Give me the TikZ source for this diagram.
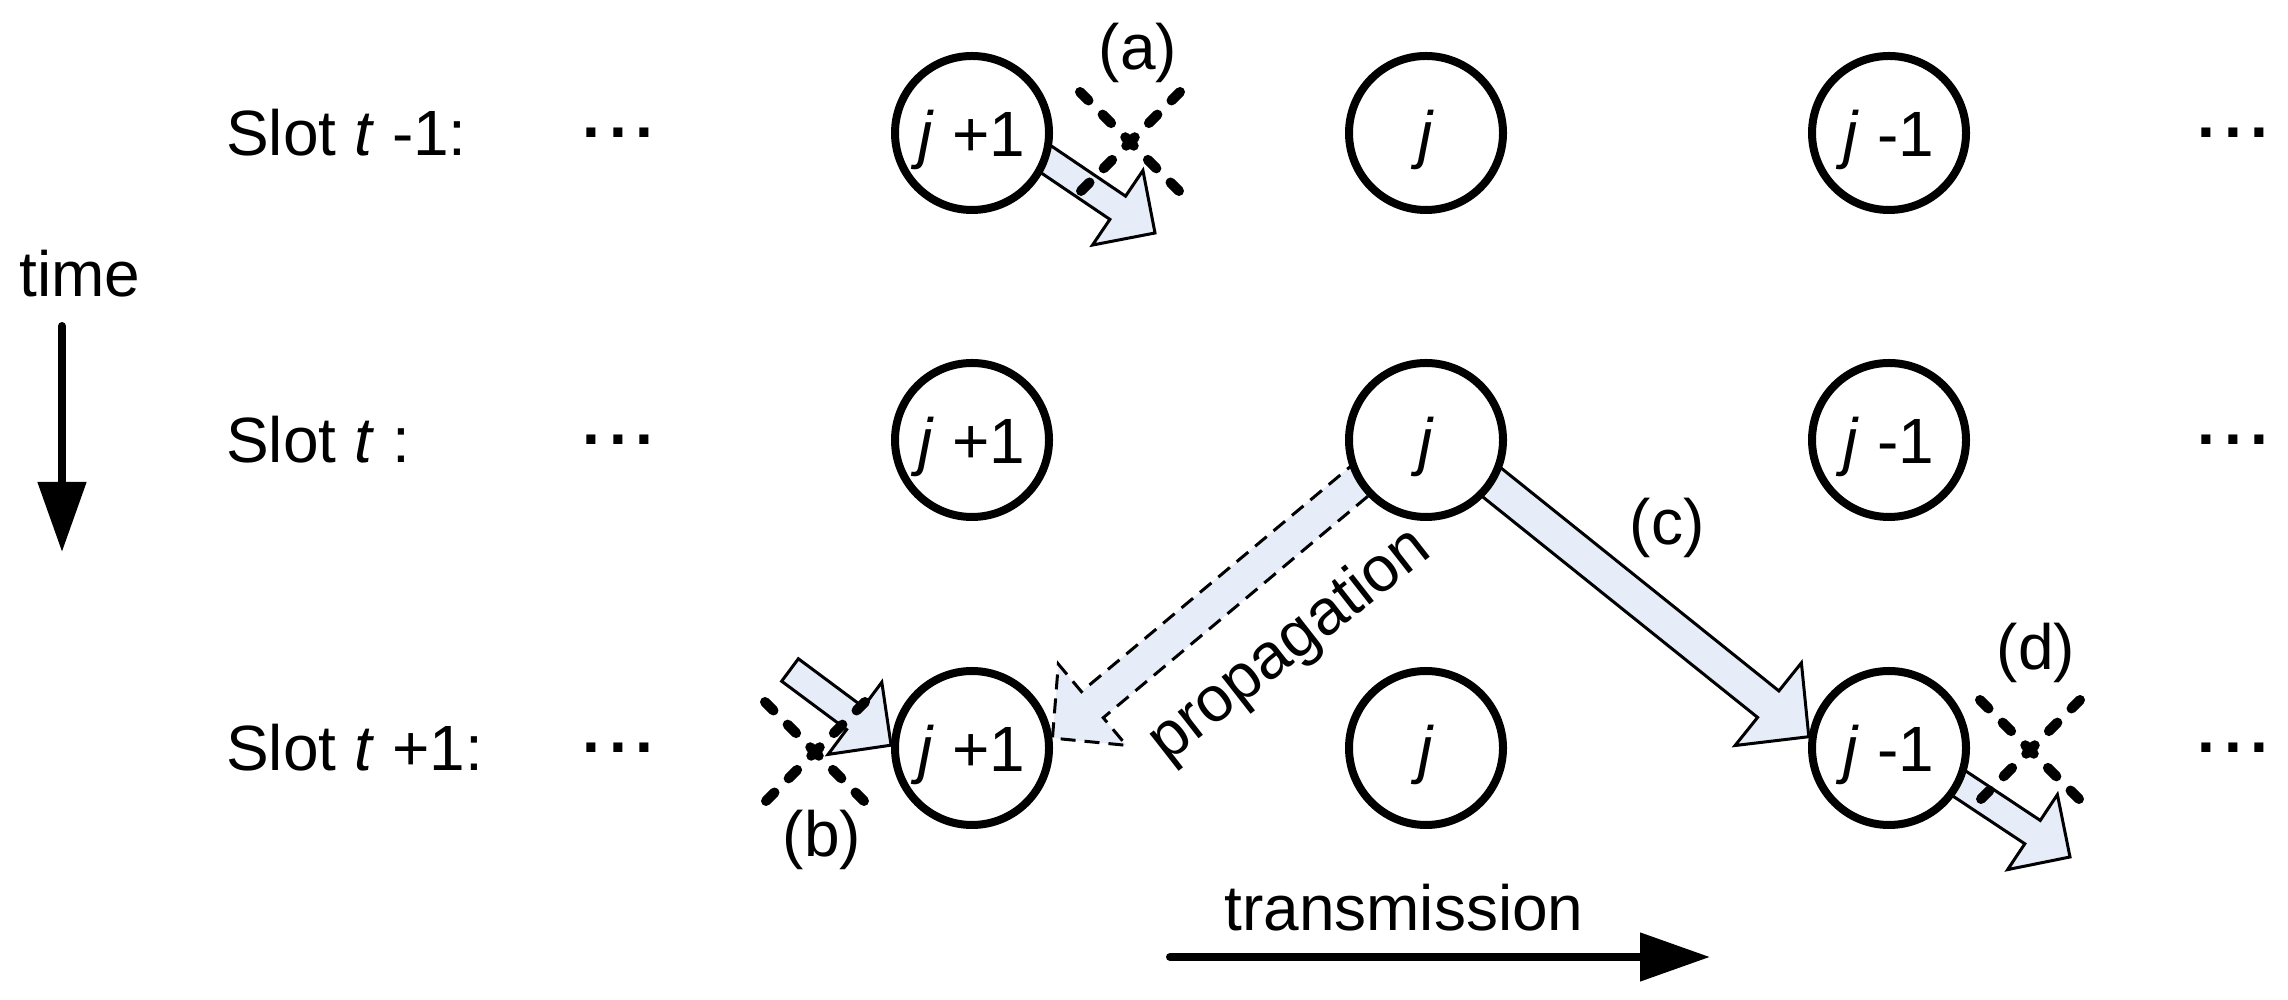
\documentclass[tikz,border=0pt]{standalone}
\usepackage{fontspec}
\setmainfont{Liberation Sans}
\usetikzlibrary{arrows.meta,calc,backgrounds}
\definecolor{arrowblue}{RGB}{230,237,248}
\newcommand{\blockarrow}[7][]{%
  \draw[#1] let \p1=(#2), \p2=(#3),
    \n1={atan2(\y2-\y1,\x2-\x1)}, \n2={veclen(\x2-\x1,\y2-\y1)} in
    [shift={(\p1)}, rotate=\n1]
    (-#4,-#5) -- (\n2-#7,-#5) -- (\n2-#7,-#6) -- (\n2,0)
    -- (\n2-#7,#6) -- (\n2-#7,#5) -- (-#4,#5) -- cycle;}

\begin{document}
\begin{tikzpicture}[x=1pt, y=1pt,
  font=\fontsize{64}{77}\selectfont,
  every node/.style={inner sep=0pt},
  site/.style={circle, draw, fill=white, line width=8pt,
    minimum size=154pt, text depth=0pt},
  slot/.style={anchor=west},
  dots/.style={font=\fontsize{64}{77}\selectfont\bfseries},
  block/.style={draw, line width=3pt, fill=arrowblue},
  xmark/.style={line width=10pt, line cap=round,
    dash pattern=on 12pt off 20pt},
  timeline/.style={line width=8pt, line cap=round,
    -{Triangle[length=70pt, width=47pt]}}]
  \useasboundingbox (0,0) rectangle (2288,1000);

  \foreach \row/\y/\s in {1/867/-1:, 2/560/:, 3/252/+1:} {
    \node[slot] (slot-\row) at (226,\y) {Slot \textit{t} \s};
    \node[dots] (ldots-\row) at (618,\y) {.\hspace{9pt}.\hspace{9pt}.};
    \node[site] (jp1-\row) at (972,\y) {\textit{j} +1};
    \node[site] (j-\row) at (1426,\y) {\textit{j}};
    \node[site] (jm1-\row) at (1889,\y) {\textit{j} -1};
    \node[dots] (rdots-\row) at (2233,\y) {.\hspace{9pt}.\hspace{9pt}.};
  }

  \coordinate (tipa) at (1155,767);
  \coordinate (tailb) at (790,330);
  \coordinate (tipd) at (2070,143);

  \begin{scope}[on background layer]
    \blockarrow[block]{jp1-1.-20}{tipa}{40}{14}{45}{45}
    \blockarrow[block]{tailb}{jp1-3.178}{0}{14}{45}{45}
    \blockarrow[block]{j-2.-33}{jm1-3.172}{40}{17}{53}{52}
    \blockarrow[block, dash pattern=on 15pt off 9pt]{j-2.212}{jp1-3.7}{40}{17}{53}{52}
    \blockarrow[block]{jm1-3.-27}{tipd}{40}{14}{45}{45}
  \end{scope}

  \coordinate (xa) at (1130,858);
  \coordinate (xb) at (815,248);
  \coordinate (xd) at (2030,250);
  \foreach \c in {xa,xb,xd}
    \draw[xmark] (\c) +(-50,50) -- +(50,-50) (\c) +(50,50) -- +(-50,-50);

  \node (lab-a) at (1138,947) {(a)};
  \node (lab-b) at (822,160) {(b)};
  \node (lab-c) at (1667,472) {(c)};
  \node (lab-d) at (2036,347) {(d)};
  \node[rotate=38] (prop) at (1290,354) {propagation};

  \node (time) at (80,726) {time};
  \coordinate (time-top) at (62,674);
  \coordinate (time-bot) at (62,448);
  \draw[timeline] (time-top) -- (time-bot);

  \node (trans) at (1404,92) {transmission};
  \coordinate (trans-left) at (1170,43);
  \coordinate (trans-right) at (1710,43);
  \draw[timeline] (trans-left) -- (trans-right);
\end{tikzpicture}
\end{document}
